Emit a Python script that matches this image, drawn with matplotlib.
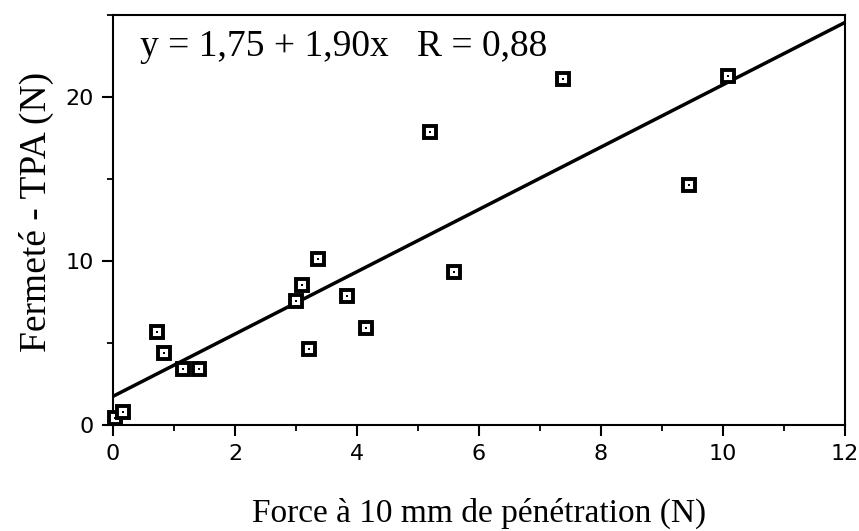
import numpy as np
import matplotlib
matplotlib.use("Agg")
import matplotlib.pyplot as plt
from matplotlib.ticker import MultipleLocator

# penetration force (N) vs TPA firmness (N)
force = [0.03, 0.16, 0.72, 0.84, 1.15, 1.41, 3.00, 3.09, 3.36, 3.22,
         3.83, 4.14, 5.19, 5.59, 7.37, 9.45, 10.09]
firmness = [0.40, 0.80, 5.66, 4.38, 3.40, 3.40, 7.58, 8.52, 10.13, 4.65,
            7.85, 5.90, 17.84, 9.32, 21.10, 14.64, 21.27]

intercept = 1.75
slope = 1.90
fit_label = "y = 1,75 + 1,90x   R = 0,88"


def main():
    fig = plt.figure(figsize=(8.59, 5.31), dpi=100)
    ax = fig.add_axes([0.1316, 0.1996, 0.852, 0.772])

    xs = np.array([0, 12])
    ax.plot(xs, intercept + slope * xs, color="black", lw=2.5, zorder=2,
            solid_capstyle="butt")

    ax.plot(force, firmness, ls="none", marker="s", ms=8, mfc="white",
            mec="black", mew=2.8, zorder=3, clip_on=False)
    ax.plot(force, firmness, ls="none", marker="s", ms=2, mfc="black",
            mec="black", mew=0, zorder=4, clip_on=False)

    ax.set_xlim(0, 12)
    ax.set_ylim(0, 25)
    ax.xaxis.set_major_locator(MultipleLocator(2))
    ax.xaxis.set_minor_locator(MultipleLocator(1))
    ax.yaxis.set_major_locator(MultipleLocator(10))
    ax.yaxis.set_minor_locator(MultipleLocator(5))

    for sp in ax.spines.values():
        sp.set_linewidth(1.5)

    ax.tick_params(which="major", direction="out", length=8, width=1.5,
                   labelsize=16, pad=6)
    ax.tick_params(which="minor", direction="out", length=4.5, width=1.3)

    ax.set_xlabel("Force à 10 mm de pénétration (N)", family="Liberation Serif",
                  fontsize=24, labelpad=24)
    ax.set_ylabel("Fermeté - TPA (N)", family="Liberation Serif", fontsize=27)
    ax.yaxis.set_label_coords(-0.08, 0.52)

    ax.text(0.037, 0.9, fit_label, transform=ax.transAxes,
            family="Liberation Serif", fontsize=27, va="baseline", ha="left")

    fig.savefig("out.png", dpi=100)


if __name__ == "__main__":
    main()
